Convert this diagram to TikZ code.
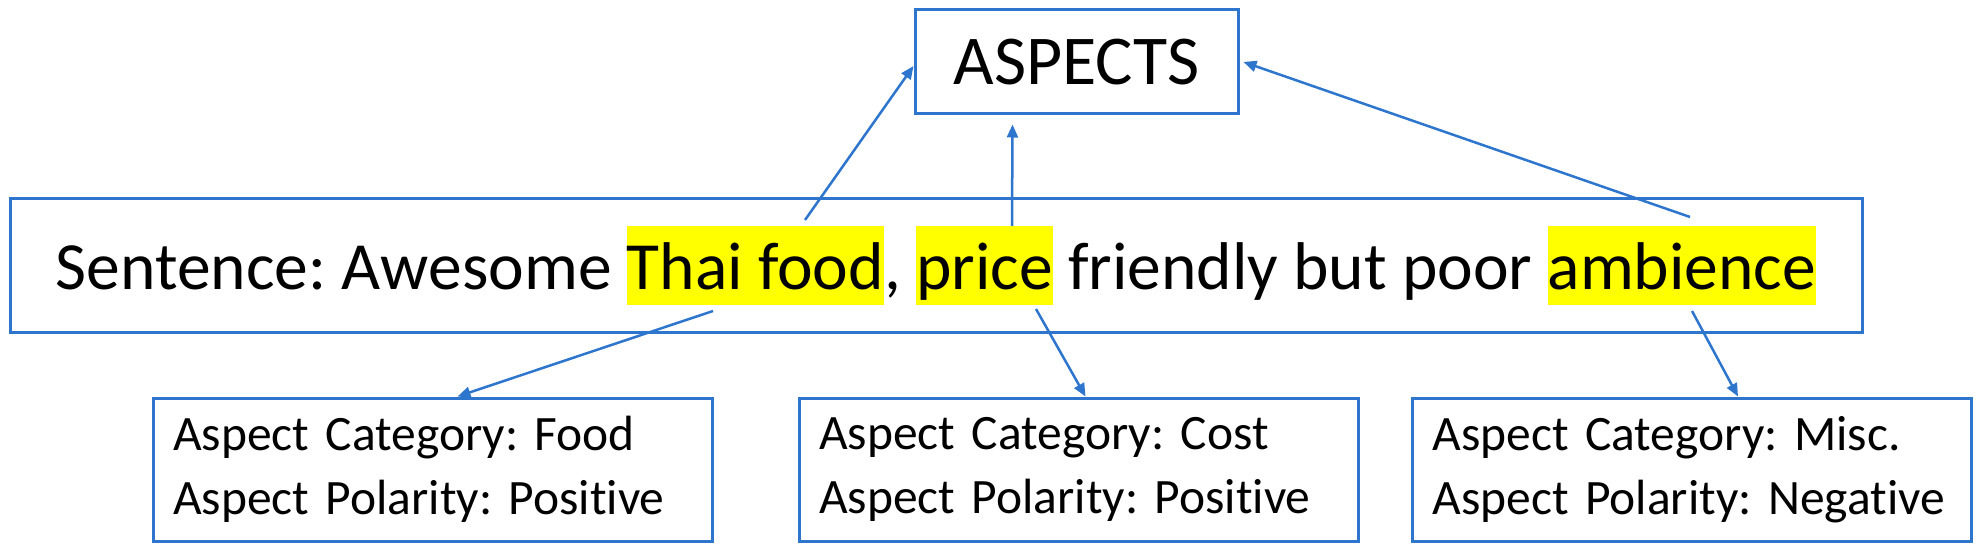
\documentclass[tikz,border=0pt]{standalone}
\usepackage{fontspec}
\setmainfont{Carlito}[Ligatures={NoCommon,NoRare}]
\usetikzlibrary{arrows.meta,positioning}
\definecolor{boxblue}{RGB}{46,117,206}
\definecolor{hlyellow}{RGB}{255,255,0}
\newcommand{\hlword}[1]{{\setlength{\fboxsep}{0pt}\colorbox{hlyellow}{\rule[-15.5pt]{0pt}{79pt}#1}}}
\frenchspacing
\tikzset{
	frame/.style={draw=boxblue, line width=3pt, inner sep=0pt},
	catbox/.style={frame, minimum width=559pt, minimum height=143pt, text width=519pt, inner xsep=20pt, align=left, font=\fontsize{49.5}{64}\selectfont},
	arr/.style={draw=boxblue, line width=2.5pt, -{Triangle[length=13pt,width=11pt]}}
}
\begin{document}
\begin{tikzpicture}[x=1pt,y=-1pt]
		\useasboundingbox (0,0) rectangle (1985,553);
		\node[frame, minimum width=323pt, minimum height=104pt, font=\fontsize{70}{84}\selectfont] (aspects) at (1076.5,62) {ASPECTS};
		\node[frame, minimum width=1852pt, minimum height=133pt, font=\fontsize{67.5}{80}\selectfont] (sentence) at (936,265.5) {Sentence: Awesome \hlword{Thai food}, \hlword{price} friendly but poor \hlword{ambience}};
		\node[catbox] (food) at (432.5,469.5) {Aspect Category: Food\\Aspect Polarity: Posi{}tive};
		\node[catbox] (cost) at (1078.5,469.5) {Aspect Category: Cost\\Aspect Polarity: Posi{}tive};
		\node[catbox] (misc) at (1692,469.5) {Aspect Category: Misc.\\Aspect Polarity: Negative};
		\coordinate (thaiup) at (805,220);
		\coordinate (thaidown) at (713,311);
		\coordinate (priceup) at (1012,226);
		\coordinate (pricedown) at (1036,309);
		\coordinate (ambup) at (1690,217);
		\coordinate (ambdown) at (1692,311);
		\draw[arr] (thaiup) -- ([yshift=-4pt]aspects.west);
		\draw[arr] (priceup) -- ([xshift=-64pt,yshift=-9pt]aspects.south);
		\draw[arr] (ambup) -- ([xshift=4pt]aspects.east);
		\draw[arr] (thaidown) -- ([xshift=25pt]food.north);
		\draw[arr] (pricedown) -- ([xshift=7pt]cost.north);
		\draw[arr] (ambdown) -- ([xshift=46pt]misc.north);
\end{tikzpicture}
\end{document}
